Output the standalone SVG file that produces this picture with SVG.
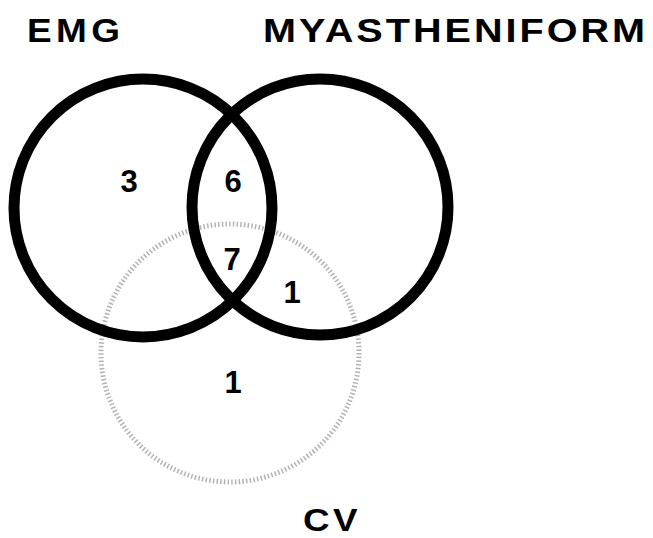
<svg xmlns="http://www.w3.org/2000/svg" width="653" height="538" viewBox="0 0 653 538">
<style>
.lbl{font-family:"Liberation Sans",Arial,sans-serif;font-weight:bold;font-size:33px;fill:#000}
.num{font-family:"Liberation Sans",Arial,sans-serif;font-weight:bold;font-size:31px;fill:#000;text-anchor:middle}
.set{fill:none;stroke:#000;stroke-width:11}
.cv{fill:none;stroke:#9a9a9a;stroke-width:5;stroke-dasharray:1.5 2.2;opacity:0.75}
</style>
<rect width="653" height="538" fill="#fff"/>
<g id="cv-set"><circle class="cv" cx="230" cy="353" r="129"/></g>
<g id="emg-set"><circle class="set" cx="143" cy="208" r="129"/></g>
<g id="myasth-set"><circle class="set" cx="320" cy="207" r="128"/></g>
<g id="labels">
<text class="lbl" transform="translate(27,42) scale(1.12,1)" letter-spacing="4">EMG</text>
<text class="lbl" transform="translate(263,42) scale(1.2,1)" letter-spacing="2.5">MYASTHENIFORM</text>
<text class="lbl" style="font-size:32px" transform="translate(303,531) scale(1.15,1)" letter-spacing="3">CV</text>
</g>
<g id="counts">
<text class="num" x="129" y="192">3</text>
<text class="num" x="233" y="192">6</text>
<text class="num" x="232" y="270">7</text>
<text class="num" x="292" y="303">1</text>
<text class="num" x="233" y="393">1</text>
</g>
</svg>
